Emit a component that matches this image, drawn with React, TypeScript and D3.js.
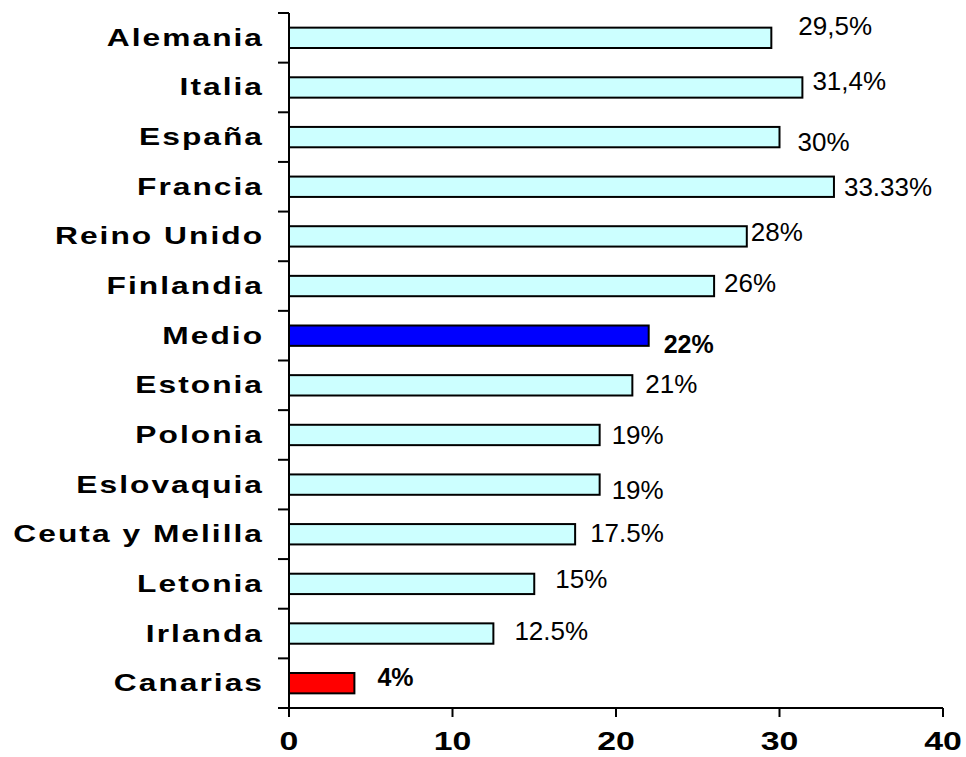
import React from 'react'
import * as d3 from 'd3'

const categories = ['Alemania', 'Italia', 'España', 'Francia', 'Reino Unido', 'Finlandia', 'Medio', 'Estonia', 'Polonia', 'Eslovaquia', 'Ceuta y Melilla', 'Letonia', 'Irlanda', 'Canarias']
const values = [29.5, 31.4, 30, 33.33, 28, 26, 22, 21, 19, 19, 17.5, 15, 12.5, 4]
const valueLabels = ['29,5%', '31,4%', '30%', '33.33%', '28%', '26%', '22%', '21%', '19%', '19%', '17.5%', '15%', '12.5%', '4%']
const xTicks = [0, 10, 20, 30, 40]

// per-label nudges [dx from bar end, dy from bar centre] as in the original
const labelNudge = [[27, -3], [10, 2.5], [18, 14], [10, 9], [4, 5], [10, 6], [15, 17], [13, 8], [12, 9], [12, 14], [15, 8], [21, 4], [21, 6], [23, 3]]

const W = 966, H = 757
const left = 289, right = 943, top = 13, bottom = 708

function barColor(name: string) {
  if (name === 'Medio') return '#0000ff'
  if (name === 'Canarias') return '#ff0000'
  return '#ccffff'
}

export default function App() {
  const x = d3.scaleLinear().domain([0, 40]).range([left, right])
  const y = d3.scaleBand<string>().domain(categories).range([top, bottom]).paddingInner(0.59).paddingOuter(0.295)
  const step = y.step()
  const font = 'Arial, "Liberation Sans", sans-serif'

  return (
    <svg width={W} height={H} style={{ position: 'fixed', left: 0, top: 0, background: '#fff' }}>
      {/* bars */}
      {categories.map((c, i) => (
        <rect key={c} x={x(0)} y={y(c)!} width={x(values[i]) - x(0)} height={y.bandwidth()}
          fill={barColor(c)} stroke="#000" strokeWidth={2} />
      ))}

      {/* y axis */}
      <line x1={left} x2={left} y1={top} y2={bottom + 9} stroke="#000" strokeWidth={2} />
      {d3.range(categories.length + 1).map(i => (
        <line key={i} x1={left - 11} x2={left} y1={top + i * step} y2={top + i * step} stroke="#000" strokeWidth={2} />
      ))}

      {/* x axis */}
      <line x1={left - 11} x2={right} y1={bottom} y2={bottom} stroke="#000" strokeWidth={2} />
      {xTicks.map(t => (
        <g key={t}>
          <line x1={x(t)} x2={x(t)} y1={bottom} y2={bottom + 9} stroke="#000" strokeWidth={2} />
          <text transform={`translate(${x(t)},750) scale(1.3,1)`} textAnchor="middle"
            fontFamily={font} fontWeight="bold" fontSize={26}>{t}</text>
        </g>
      ))}

      {/* category labels */}
      {categories.map(c => (
        <text key={c} transform={`translate(262,${y(c)! + y.bandwidth() / 2 + 8}) scale(1.35,1)`}
          textAnchor="end" fontFamily={font} fontWeight="bold" fontSize={23.5}
          style={{ letterSpacing: '1.5px' }} dx={1.5}>{c}</text>
      ))}

      {/* value labels */}
      {categories.map((c, i) => {
        const bold = c === 'Medio' || c === 'Canarias'
        const [dx, dy] = labelNudge[i]
        return (
          <text key={c} x={x(values[i]) + dx} y={y(c)! + y.bandwidth() / 2 + dy}
            fontFamily={font} fontSize={bold ? 25 : 26} fontWeight={bold ? 'bold' : 'normal'}>{valueLabels[i]}</text>
        )
      })}
    </svg>
  )
}
